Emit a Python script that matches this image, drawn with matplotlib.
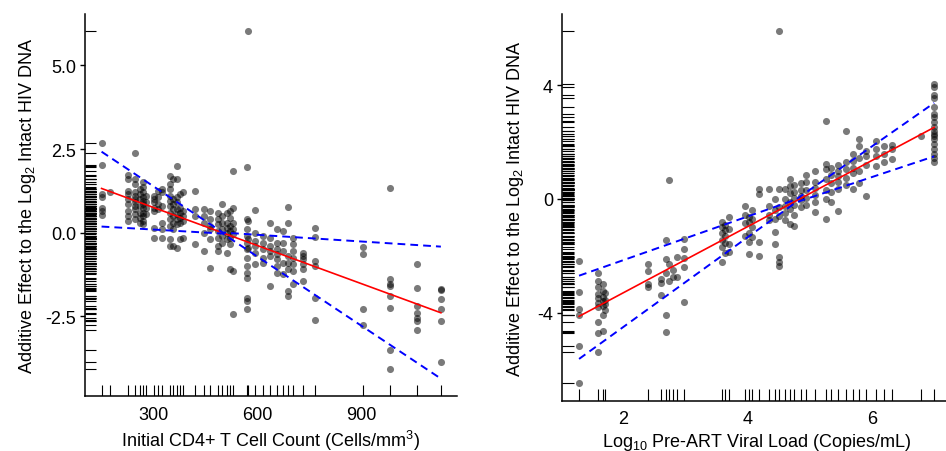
import matplotlib
matplotlib.use("Agg")
import matplotlib.pyplot as plt
import numpy as np

plt.rcParams['font.family'] = ['Liberation Sans', 'DejaVu Sans']
plt.rcParams['mathtext.fontset'] = 'custom'
plt.rcParams['mathtext.rm'] = 'Liberation Sans'
plt.rcParams['mathtext.it'] = 'Liberation Sans:italic'
plt.rcParams['mathtext.default'] = 'regular'
plt.rcParams['axes.unicode_minus'] = False

# ---- left panel: initial CD4 count, partial residuals grouped by x ----
cd4 = [151, 175, 226, 247, 262, 271, 278, 302, 314, 326, 348, 358, 367, 377, 386,
       420, 446, 463, 487, 497, 511, 521, 530, 569, 573, 593, 617, 636, 655, 674,
       689, 703, 732, 766, 903, 981, 1058, 1128]
cd4_resid = [
    [2.67, 2.01, 1.15, 1.05, 0.75, 0.65, 0.52],
    [1.2],
    [1.72, 1.6, 1.25, 1.15, 1.0, 0.85, 0.65, 0.5, 0.35],
    [2.37, 1.6, 1.45, 1.2, 1.1, 1.0, 0.9, 0.8, 0.7, 0.55, 0.4],
    [1.3, 1.15, 1.0, 0.8, 0.6, 0.45, 0.3],
    [1.5, 1.35, 1.2, 1.05, 0.95, 0.85, 0.75, 0.6, 0.5, 0.35, 0.25],
    [1.1, 0.9, 0.75, 0.55],
    [1.1, 1.0, 0.9, 0.75, 0.65, 0.15, -0.15],
    [1.25, 1.05, 0.85, 0.7],
    [1.3, 1.2, 0.8, 0.3, 0.1, -0.15],
    [1.7, 1.45, 1.3, 1.1, 0.95, 0.8, 0.6, 0.4, 0.2, -0.2, -0.4],
    [1.6, 1.0, 0.85, 0.7, 0.5, 0.3, 0.1, -0.4],
    [2.0, 1.6, 1.05, 0.9, 0.7, 0.55, 0.4, 0.25, -0.45],
    [1.15, 0.75, 0.6, 0.45, 0.3, -0.2],
    [1.2, 0.65, 0.5, 0.35, -0.15],
    [1.25, 0.7, 0.5, -0.35],
    [0.7, 0.5, 0.3, 0.0, -0.55],
    [0.65, 0.4, 0.2, 0.1, -0.2, -1.05],
    [0.6, 0.4, 0.25, 0.05, -0.15, -0.4, -0.55],
    [0.85, 0.5, 0.3, 0.1, -0.1, -0.3],
    [0.6, 0.3, 0.15, 0.0, -0.2, -0.6],
    [0.65, 0.45, 0.2, 0.05, -0.15, -0.35, -1.1],
    [1.85, 0.75, 0.3, 0.1, -0.05, -1.15, -2.45],
    [1.97, 0.4, 0.1, -0.1, -0.3, -0.5, -0.75, -1.0, -1.2, -1.35, -1.95, -2.05, -2.3],
    [6.04, 0.35, -0.2, -0.45],
    [0.68, 0.0, -0.25, -0.4, -0.6, -0.95],
    [-0.1, -0.3, -0.5, -0.75, -0.9],
    [0.3, -0.15, -0.4, -0.55, -0.7, -1.6],
    [0.1, -0.3, -0.5, -0.65, -0.8, -1.0, -1.2],
    [0.05, -0.3, -0.55, -0.9, -1.25],
    [0.78, 0.3, -0.7, -0.9, -1.1, -1.75, -1.9],
    [-0.15, -0.35, -0.55, -0.75, -0.95, -1.15, -1.55],
    [-0.6, -0.7, -0.8, -0.95, -1.1, -1.45],
    [0.15, -0.12, -0.85, -1.0, -1.95, -2.62],
    [-0.43, -0.65, -2.3, -2.78],
    [1.33, -1.38, -1.55, -1.6, -1.9, -2.25, -3.5, -4.07],
    [-0.95, -1.65, -2.2, -2.4, -2.57, -2.65, -2.92],
    [-1.68, -1.72, -1.98, -2.3, -2.65, -3.86],
]
cd4_line_x = [151, 1128]
cd4_fit = [1.32, -2.40]
# confidence band, read as vertices (left end, pinch point, right end)
cd4_band_x = [151, 500, 1128]
cd4_band_hi = [2.42, 0.0, -0.42]
cd4_band_lo = [0.18, -0.03, -4.37]

# ---- right panel: log10 pre-ART viral load ----
vl = [1.30, 1.60, 1.68, 1.71, 2.40, 2.61, 2.70, 2.75, 2.80, 2.88, 2.99, 3.60, 3.65,
      3.70, 3.97, 4.02, 4.08, 4.19, 4.35, 4.45, 4.51, 4.60, 4.68, 4.75, 4.86, 4.95,
      5.09, 5.26, 5.35, 5.45, 5.58, 5.70, 5.80, 5.90, 6.06, 6.20, 6.33, 6.79, 7.00]
vl_resid = [
    [-2.2, -3.26, -3.87, -4.1, -5.16, -6.49],
    [-2.6, -2.87, -3.1, -3.35, -3.5, -3.65, -3.8, -4.32, -4.7, -5.37],
    [-3.0, -3.25, -3.45, -3.6, -3.75, -4.1, -4.65],
    [-3.3, -3.55, -3.7, -3.9],
    [-2.29, -2.52, -3.0, -3.11],
    [-2.8, -2.95, -3.38],
    [-1.43, -2.11, -2.6, -4.1, -4.69],
    [0.67, -2.3, -2.9],
    [-2.5, -2.75],
    [-2.05, -2.76],
    [-1.41, -1.76, -2.09, -2.41, -3.64],
    [-0.8, -1.0, -1.2, -1.45, -1.7, -2.23],
    [-0.9, -1.1, -1.3, -1.55, -1.9],
    [-0.65, -1.05, -1.58, -1.85],
    [-0.23, -0.55, -0.85, -1.3],
    [-0.65, -0.8, -1.2, -1.52, -1.94],
    [-0.4, -0.7, -1.0, -1.35],
    [0.35, 0.18, -1.52, -2.0],
    [0.35, -0.25, -0.55, -0.75],
    [0.0, -0.4, -0.7, -1.17, -1.58],
    [5.92, 0.35, -0.3, -0.6, -2.05, -2.23, -2.35],
    [0.35, 0.0, -0.25, -0.5, -0.75],
    [0.7, 0.45, 0.2, -0.1, -0.35, -0.88],
    [0.5, 0.25, 0.05, -0.2, -0.55, -0.95],
    [0.55, 0.3, 0.1, -0.05, -0.3],
    [0.85, 0.6, 0.3, 0.05, -0.2],
    [1.0, 0.6, 0.4, 0.15, -0.1, -0.47],
    [2.76, 1.23, 1.05, 0.7, 0.3, 0.0, -0.7],
    [1.1, 0.85, 0.55, 0.25, -0.1],
    [1.2, 1.0, 0.8, 0.6, 0.35, -0.41],
    [2.4, 1.3, 1.05, 0.75, 0.5],
    [1.6, 1.35, 1.1, 0.9, 0.35],
    [2.1, 1.88, 1.45, 1.0, 0.55],
    [1.7, 1.5, 1.2, 0.12],
    [2.05, 1.75, 1.5, 1.17],
    [1.85, 1.6, 1.3],
    [1.9, 1.75, 1.4],
    [2.23],
    [4.05, 3.95, 3.65, 3.55, 3.23, 3.0, 2.9, 2.7, 2.55, 2.4, 2.3, 2.2, 2.1,
     1.95, 1.75, 1.6, 1.45, 1.3],
]
vl_line_x = [1.30, 7.00]
vl_fit = [-4.13, 2.52]
vl_band_x = [1.30, 4.78, 7.00]
vl_band_hi = [-2.70, -0.02, 3.38]
vl_band_lo = [-5.63, -0.12, 1.50]


def flatten(xs, groups):
    px, py = [], []
    for x, ys in zip(xs, groups):
        px += [x] * len(ys)
        py += ys
    return np.array(px), np.array(py)


def panel(ax, xs, groups, line_x, fit, band_x, band_hi, band_lo, xlim, ylim,
          xticks, xticklabels, yticks, yticklabels, xlabel, ylabel, xlab_pos, ylab_pos):
    px, py = flatten(xs, groups)
    ax.scatter(px, py, s=26, color='black', alpha=0.52, linewidths=0, zorder=2)
    ax.plot(line_x, fit, color='#ff0000', lw=1.2, zorder=3)
    for b in (band_hi, band_lo):
        ln, = ax.plot(band_x, b, color='#0000ff', lw=1.4, zorder=3)
        ln.set_dashes((4.0, 2.6))
    # rugs (R ticksize 0.03)
    ax.vlines(np.unique(px), 0, 0.03, transform=ax.get_xaxis_transform(),
              color='black', lw=0.8, zorder=1)
    ax.hlines(py, 0, 0.03, transform=ax.get_yaxis_transform(),
              color='black', lw=0.8, zorder=1)
    ax.set_xlim(*xlim)
    ax.set_ylim(*ylim)
    ax.spines['top'].set_visible(False)
    ax.spines['right'].set_visible(False)
    ax.spines['left'].set_linewidth(1.1)
    ax.spines['bottom'].set_linewidth(1.1)
    ax.set_xticks(xticks)
    ax.set_xticklabels(xticklabels)
    ax.set_yticks(yticks)
    ax.set_yticklabels(yticklabels)
    ax.tick_params(axis='x', length=0, pad=7, labelsize=13)
    ax.tick_params(axis='y', length=3.5, width=1, direction='out', pad=3, labelsize=13)
    ax.text(xlab_pos[0], xlab_pos[1], xlabel, transform=ax.transAxes,
            ha='center', va='center', fontsize=13)
    ax.text(ylab_pos[0], ylab_pos[1], ylabel, transform=ax.transAxes,
            ha='center', va='center', rotation=90, fontsize=13)


fig = plt.figure(figsize=(9.46, 4.52), dpi=100)
ax1 = fig.add_axes([0.08985, 0.12168, 0.39323, 0.84513])
ax2 = fig.add_axes([0.59408, 0.11128, 0.40592, 0.85553])

ylab = 'Additive Effect to the Log$_2$ Intact HIV DNA'
panel(ax1, cd4, cd4_resid, cd4_line_x, cd4_fit, cd4_band_x, cd4_band_hi, cd4_band_lo,
      (103.3, 1174.4), (-4.89, 6.54),
      [300, 600, 900], ['300', '600', '900'],
      [-2.5, 0.0, 2.5, 5.0], ['-2.5', '0.0', '2.5', '5.0'],
      'Initial CD4+ T Cell Count (Cells/mm$^3$)', ylab,
      (0.5, -0.115), (-0.155, 0.5))
panel(ax2, vl, vl_resid, vl_line_x, vl_fit, vl_band_x, vl_band_hi, vl_band_lo,
      (1.026, 7.19), (-7.10, 6.51),
      [2, 4, 6], ['2', '4', '6'],
      [-4, 0, 4], ['-4', '0', '4'],
      'Log$_{10}$ Pre-ART Viral Load (Copies/mL)', ylab,
      (0.508, -0.105), (-0.12, 0.5))

fig.savefig('out.png', dpi=100)
